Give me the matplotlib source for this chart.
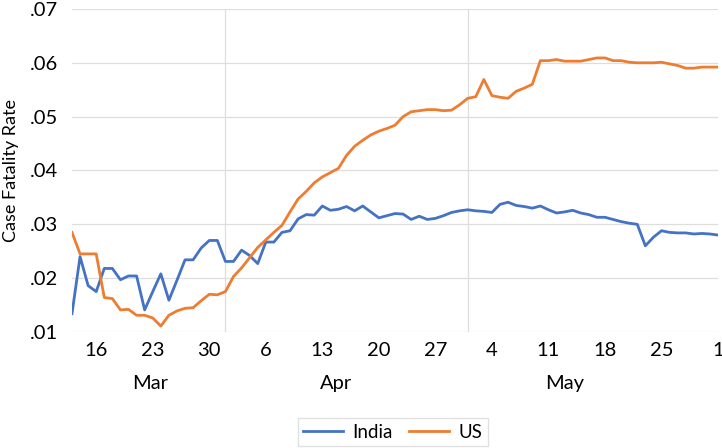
import datetime as dt
import matplotlib
matplotlib.use('Agg')
import matplotlib.pyplot as plt
import matplotlib.dates as mdates
from matplotlib.ticker import FuncFormatter, MultipleLocator

# Daily case fatality rate, 13 Mar - 1 Jun 2020
start_date = dt.date(2020, 3, 13)
india = [0.0134, 0.0240, 0.0186, 0.0175, 0.0218, 0.0218, 0.0197, 0.0204, 0.0204, 0.0141,
         0.0175, 0.0208, 0.0159, 0.0196, 0.0234, 0.0234, 0.0256, 0.0270, 0.0270, 0.0231,
         0.0231, 0.0252, 0.0242, 0.0227, 0.0267, 0.0267, 0.0285, 0.0288, 0.0310, 0.0318,
         0.0317, 0.0334, 0.0326, 0.0328, 0.0333, 0.0325, 0.0334, 0.0323, 0.0312, 0.0316,
         0.0320, 0.0319, 0.0309, 0.0315, 0.0309, 0.0311, 0.0316, 0.0322, 0.0325, 0.0327,
         0.0325, 0.0324, 0.0322, 0.0337, 0.0341, 0.0335, 0.0333, 0.0330, 0.0334, 0.0327,
         0.0321, 0.0323, 0.0326, 0.0321, 0.0318, 0.0313, 0.0313, 0.0309, 0.0305, 0.0302,
         0.0300, 0.0260, 0.0276, 0.0288, 0.0285, 0.0284, 0.0284, 0.0282, 0.0283, 0.0282,
         0.0280]
us = [0.0285, 0.0245, 0.0245, 0.0245, 0.0164, 0.0162, 0.0141, 0.0142, 0.0131, 0.0131,
      0.0126, 0.0111, 0.0131, 0.0139, 0.0144, 0.0145, 0.0158, 0.0170, 0.0169, 0.0175,
      0.0203, 0.0219, 0.0238, 0.0257, 0.0271, 0.0285, 0.0298, 0.0323, 0.0347, 0.0361,
      0.0377, 0.0388, 0.0396, 0.0404, 0.0428, 0.0445, 0.0456, 0.0466, 0.0473, 0.0478,
      0.0484, 0.0500, 0.0509, 0.0511, 0.0513, 0.0513, 0.0511, 0.0512, 0.0522, 0.0534,
      0.0537, 0.0569, 0.0539, 0.0536, 0.0534, 0.0547, 0.0553, 0.0560, 0.0604, 0.0604,
      0.0606, 0.0603, 0.0603, 0.0603, 0.0606, 0.0609, 0.0609, 0.0604, 0.0604, 0.0601,
      0.0600, 0.0600, 0.0600, 0.0601, 0.0598, 0.0595, 0.0590, 0.0590, 0.0592, 0.0592,
      0.0592]
dates = [start_date + dt.timedelta(days=i) for i in range(len(india))]

# month captions sit under the week labels
month_names = ['Mar', 'Apr', 'May']
month_pos = [dt.datetime(2020, 3, 22, 16), dt.datetime(2020, 4, 14, 16), dt.datetime(2020, 5, 13)]

plt.rcParams['font.family'] = ['Lato', 'DejaVu Sans']

fig = plt.figure(figsize=(7.22, 4.48), dpi=100)
ax = fig.add_axes([0.0997, 0.259, 0.8948, 0.721])

ax.plot(dates, india, color='#4472C4', lw=2.0, label='India', zorder=3)
ax.plot(dates, us, color='#ED7D31', lw=2.0, label='US', zorder=3)

ax.set_xlim(dates[0], dates[-1])
ax.set_ylim(0.01, 0.07)
ax.yaxis.set_major_locator(MultipleLocator(0.01))
ax.yaxis.set_major_formatter(FuncFormatter(lambda v, p: ('%.2f' % v).lstrip('0')))

ax.xaxis.set_major_locator(mdates.WeekdayLocator(byweekday=mdates.MO))
ax.xaxis.set_major_formatter(FuncFormatter(lambda v, p: str(mdates.num2date(v).day)))
ax.xaxis.set_minor_locator(mdates.MonthLocator())

ax.grid(axis='y', which='major', color='#dedede', lw=0.9)
ax.grid(axis='x', which='minor', color='#dedede', lw=0.9)
ax.set_axisbelow(True)
for s in ax.spines.values():
    s.set_visible(False)
ax.tick_params(axis='both', which='both', length=0, labelsize=14.5, colors='#000000')
ax.tick_params(axis='x', pad=7)
ax.tick_params(axis='y', pad=10)

ax.set_ylabel('Case Fatality Rate', fontsize=13, labelpad=8)

for name, pos in zip(month_names, month_pos):
    ax.text(mdates.date2num(pos), -0.16, name, transform=ax.get_xaxis_transform(),
            ha='center', va='center', fontsize=14.5)

fig.legend(loc='upper center', bbox_to_anchor=(0.544, 0.067), ncol=2, fontsize=13.5,
           frameon=True, edgecolor='#d9d9d9', fancybox=False, handlelength=2.1,
           handletextpad=0.5, columnspacing=0.9, borderpad=0.3, borderaxespad=0)

fig.savefig('out.png', dpi=100)
